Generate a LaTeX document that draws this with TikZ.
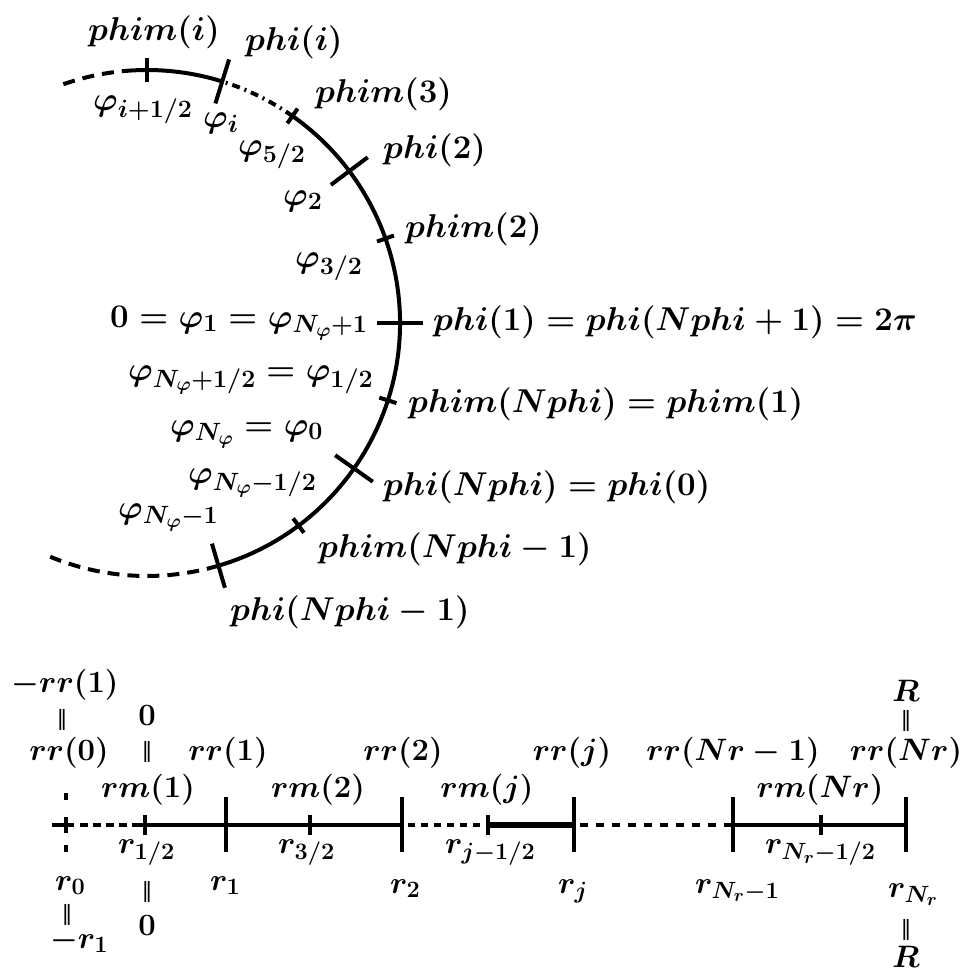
\documentclass[tikz,border=0pt]{standalone}
\usepackage{fix-cm}
\usepackage{fontspec}
\usepackage{graphicx}
\usetikzlibrary{calc}
\newfontfamily\djv{DejaVu Sans}
\DeclareMathSizes{33}{33}{25}{19}
\DeclareMathSizes{31}{31}{23.5}{18}
\tikzset{
  lab/.style={font=\fontsize{33}{38}\selectfont\boldmath, inner sep=0pt},
  labb/.style={font=\fontsize{31}{36}\selectfont\boldmath, inner sep=0pt},
  labw/.style={lab, anchor=base west},
  labbw/.style={labb, anchor=base west},
  labbc/.style={labb, anchor=base},
  vbar/.style={font=\djv\fontsize{21}{22}\selectfont, inner sep=0pt},
  curve/.style={line width=4pt},
  hl/.style={line width=3.5pt},
  dsh/.style={dash pattern=on 12pt off 8pt},
  dsd/.style={dash pattern=on 8pt off 5pt on 2pt off 5pt},
  dtt/.style={dash pattern=on 8pt off 8pt},
}
\newcommand{\vq}{‖}
\begin{document}
\begin{tikzpicture}[x=1pt,y=-1pt]
\useasboundingbox (0,0) rectangle (965,972);
\coordinate (C) at (147,323);
% circle arcs
\draw[curve] (C) ++(-73.6:253pt) arc[start angle=-73.6,end angle=54.9,radius=253pt];
\draw[curve,dsd] (C) ++(54.9:253pt) arc[start angle=54.9,end angle=72.7,radius=253pt];
\draw[curve] (C) ++(72.7:253pt) arc[start angle=72.7,end angle=93,radius=253pt];
\draw[curve,dsh] (C) ++(93:253pt) arc[start angle=93,end angle=111,radius=253pt];
\draw[curve,dsh] (C) ++(-73.6:253pt) arc[start angle=-73.6,end angle=-112.5,radius=253pt];
% long ticks
\foreach \a in {0,36.9,72.7,-35.1,-73.6}
  \draw[curve] (C) ++(\a:230pt) -- ++(\a:46pt);
% short ticks
\foreach \a in {19.5,54.9,-17.8,-53.2}
  \draw[curve] (C) ++(\a:244pt) -- ++(\a:18pt);
\draw[curve] (C) ++(90:241pt) -- ++(90:24pt);
% inner labels
\node[labw] (a1) at (93,110) {$\varphi_{i+1/2}$};
\node[labw] (a2) at (203,127) {$\varphi_{i}$};
\node[labw] (a3) at (238,155) {$\varphi_{5/2}$};
\node[labw] (a4) at (283,205) {$\varphi_{2}$};
\node[labw] (a5) at (295,267) {$\varphi_{3/2}$};
\node[labw] (a6) at (110,327) {$0=\varphi_{1}=\varphi_{N_\varphi+1}$};
\node[labw] (a7) at (128,380) {$\varphi_{N_\varphi+1/2}=\varphi_{1/2}$};
\node[labw] (a8) at (170,435) {$\varphi_{N_\varphi}=\varphi_{0}$};
\node[labw] (a9) at (188,483) {$\varphi_{N_\varphi-1/2}$};
\node[labw] (a10) at (118,518) {$\varphi_{N_\varphi-1}$};
% outer labels
\node[labw] (b1) at (88,40) {$phim(i)$};
\node[labw] (b2) at (245,50) {$phi(i)$};
\node[labw] (b3) at (315,102) {$phim(3)$};
\node[labw] (b4) at (383,158) {$phi(2)$};
\node[labw] (b5) at (405,237) {$phim(2)$};
\node[labw] (b6) at (433,330) {$phi(1)=phi(Nphi+1)=2\pi$};
\node[labw] (b7) at (408,412) {$phim(Nphi)=phim(1)$};
\node[labw] (b8) at (383,495) {$phi(Nphi)=phi(0)$};
\node[labw] (b9) at (318,557) {$phim(Nphi-1)$};
\node[labw] (b10) at (230,620) {$phi(Nphi-1)$};
% radial line
\draw[hl] (52,825) -- (74,825);
\draw[hl,dash pattern=on 8pt off 5pt] (80,825) -- (140,825);
\draw[hl] (140,825) -- (402,825);
\draw[hl,dash pattern=on 7pt off 6pt] (408,825) -- (482,825);
\draw[line width=6pt] (488,825) -- (574,825);
\draw[hl,dtt] (580,825) -- (733,825);
\draw[hl] (733,825) -- (906,825);
\draw[hl,dash pattern=on 7pt off 17pt on 16pt off 12pt on 7pt off 10pt] (66,793) -- (66,852);
\foreach \x in {226,402,574,733,906}
  \draw[hl] (\x,797) -- (\x,852);
\foreach \x in {145,310,488,821}
  \draw[hl] (\x,815) -- (\x,835);
% labels above
\node[labbc] (c1) at (65,692) {$-rr(1)$};
\node[vbar] (c2) at (62,720) {\vq};
\node[labbc] (c3) at (69,760) {$rr(0)$};
\node[labbc] (c4) at (147,725) {$0$};
\node[vbar] (c5) at (147,752) {\vq};
\node[labbc] (c6) at (228,760) {$rr(1)$};
\node[labbc] (c7) at (403,760) {$rr(2)$};
\node[labbc] (c8) at (148,797) {$rm(1)$};
\node[labbc] (c9) at (318,797) {$rm(2)$};
\node[labbc] (c10) at (487,797) {$rm(j)$};
\node[labbc] (c11) at (572,760) {$rr(j)$};
\node[labbc] (c12) at (733,760) {$rr(Nr-1)$};
\node[labbc] (c13) at (906,760) {$rr(Nr)$};
\node[vbar] (c14) at (906,721) {\vq};
\node[labbc] (c15) at (906,701) {$R$};
\node[labbc] (c16) at (820,797) {$rm(Nr)$};
% labels below
\node[labbw] (d1) at (118,853) {$r_{1/2}$};
\node[labbw] (d2) at (278,853) {$r_{3/2}$};
\node[labbw] (d3) at (445,853) {$r_{j-1/2}$};
\node[labbw] (d4) at (765,853) {$r_{N_r-1/2}$};
\node[labbw] (d5) at (55,890) {$r_{0}$};
\node[vbar] (d6) at (67,915) {\vq};
\node[labbw] (d7) at (50,948) {$-r_{1}$};
\node[vbar] (d8) at (147,892) {\vq};
\node[labbc] (d9) at (147,935) {$0$};
\node[labbw] (d10) at (210,890) {$r_{1}$};
\node[labbw] (d11) at (390,893) {$r_{2}$};
\node[labbw] (d12) at (558,893) {$r_{j}$};
\node[labbw] (d13) at (695,893) {$r_{N_r-1}$};
\node[labbw] (d14) at (888,897) {$r_{N_r}$};
\node[vbar] (d15) at (906,930) {\vq};
\node[labbc] (d16) at (906,967) {$R$};
\end{tikzpicture}
\end{document}
